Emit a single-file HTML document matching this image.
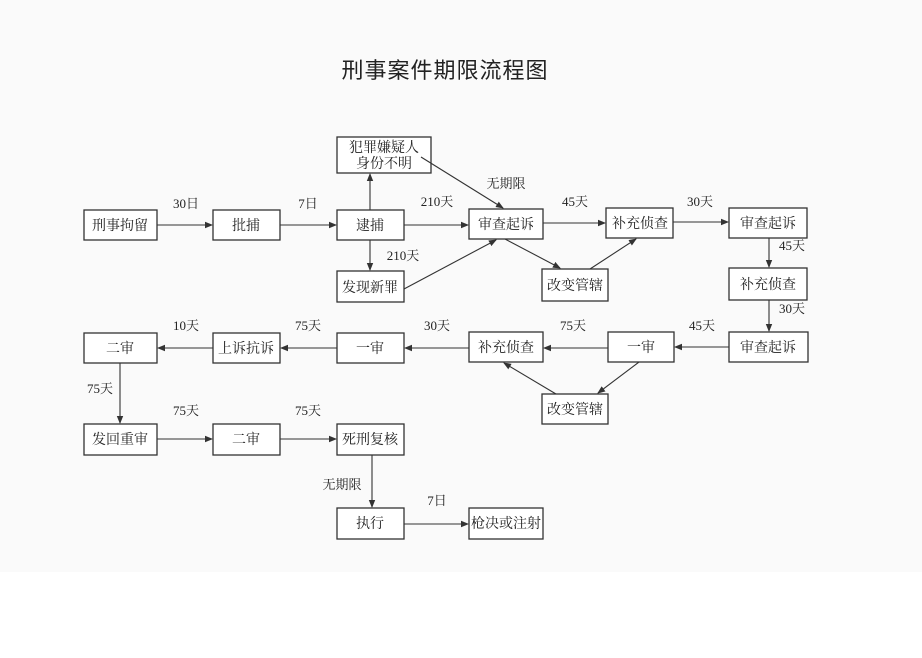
<!DOCTYPE html>
<html><head><meta charset="utf-8"><style>
html,body{margin:0;padding:0;background:#fff;}
svg{display:block;}
text{font-family:"Liberation Serif","Noto Serif CJK SC","Noto Sans CJK SC",serif;fill:#222;}
</style></head><body>
<svg width="922" height="658" viewBox="0 0 922 658" xmlns="http://www.w3.org/2000/svg">
<defs><marker id="a" markerWidth="8" markerHeight="8" refX="7" refY="4" orient="auto" markerUnits="userSpaceOnUse"><path d="M0,0.8 L8,4 L0,7.2 Z" fill="#333"/></marker></defs>
<rect x="0" y="0" width="922" height="572" fill="#fafafa"/>
<text x="445" y="78" font-size="22" text-anchor="middle" letter-spacing="1" style="font-family:'Noto Sans CJK SC',sans-serif">刑事案件期限流程图</text>
<g fill="#fff" stroke="#333" stroke-width="1.3">
<rect x="84" y="210" width="73" height="30"/>
<rect x="213" y="210" width="67" height="30"/>
<rect x="337" y="210" width="67" height="30"/>
<rect x="337" y="137" width="94" height="36"/>
<rect x="337" y="271" width="67" height="31"/>
<rect x="469" y="209" width="74" height="30"/>
<rect x="606" y="208" width="67" height="30"/>
<rect x="542" y="269" width="66" height="32"/>
<rect x="729" y="208" width="78" height="30"/>
<rect x="729" y="268" width="78" height="32"/>
<rect x="729" y="332" width="79" height="30"/>
<rect x="608" y="332" width="66" height="30"/>
<rect x="469" y="332" width="74" height="30"/>
<rect x="542" y="394" width="66" height="30"/>
<rect x="337" y="333" width="67" height="30"/>
<rect x="213" y="333" width="67" height="30"/>
<rect x="84" y="333" width="73" height="30"/>
<rect x="84" y="424" width="73" height="31"/>
<rect x="213" y="424" width="67" height="31"/>
<rect x="337" y="424" width="67" height="31"/>
<rect x="337" y="508" width="67" height="31"/>
<rect x="469" y="508" width="74" height="31"/>
</g>
<g stroke="#333" stroke-width="1.1" fill="none" marker-end="url(#a)">
<line x1="157" y1="225" x2="212" y2="225"/>
<line x1="280" y1="225" x2="336" y2="225"/>
<line x1="404" y1="225" x2="468" y2="225"/>
<line x1="370" y1="210" x2="370" y2="174"/>
<line x1="370" y1="240" x2="370" y2="270"/>
<line x1="421" y1="157" x2="503" y2="208"/>
<line x1="404" y1="289" x2="496" y2="240"/>
<line x1="543" y1="223" x2="605" y2="223"/>
<line x1="505" y1="239" x2="560" y2="268"/>
<line x1="590" y1="269" x2="636" y2="239"/>
<line x1="673" y1="222" x2="728" y2="222"/>
<line x1="769" y1="238" x2="769" y2="267"/>
<line x1="769" y1="300" x2="769" y2="331"/>
<line x1="729" y1="347" x2="675" y2="347"/>
<line x1="608" y1="348" x2="544" y2="348"/>
<line x1="639" y1="362" x2="598" y2="393"/>
<line x1="556" y1="394" x2="504" y2="363"/>
<line x1="469" y1="348" x2="405" y2="348"/>
<line x1="337" y1="348" x2="281" y2="348"/>
<line x1="213" y1="348" x2="158" y2="348"/>
<line x1="120" y1="363" x2="120" y2="423"/>
<line x1="157" y1="439" x2="212" y2="439"/>
<line x1="280" y1="439" x2="336" y2="439"/>
<line x1="372" y1="455" x2="372" y2="507"/>
<line x1="404" y1="524" x2="468" y2="524"/>
</g>
<g font-size="14" text-anchor="middle">
<text x="120" y="230">刑事拘留</text>
<text x="246" y="230">批捕</text>
<text x="370" y="230">逮捕</text>
<text x="384" y="152">犯罪嫌疑人</text>
<text x="384" y="168">身份不明</text>
<text x="370" y="292">发现新罪</text>
<text x="506" y="229">审查起诉</text>
<text x="640" y="228">补充侦查</text>
<text x="575" y="290">改变管辖</text>
<text x="768" y="228">审查起诉</text>
<text x="768" y="289">补充侦查</text>
<text x="768" y="352">审查起诉</text>
<text x="641" y="352">一审</text>
<text x="506" y="352">补充侦查</text>
<text x="575" y="414">改变管辖</text>
<text x="370" y="353">一审</text>
<text x="246" y="353">上诉抗诉</text>
<text x="120" y="353">二审</text>
<text x="120" y="444">发回重审</text>
<text x="246" y="444">二审</text>
<text x="370" y="444">死刑复核</text>
<text x="370" y="528">执行</text>
<text x="506" y="528">枪决或注射</text>
</g>
<g font-size="13" text-anchor="middle">
<text x="186" y="208">30日</text>
<text x="308" y="208">7日</text>
<text x="437" y="206">210天</text>
<text x="506" y="188">无期限</text>
<text x="403" y="260">210天</text>
<text x="575" y="206">45天</text>
<text x="700" y="206">30天</text>
<text x="792" y="250">45天</text>
<text x="792" y="313">30天</text>
<text x="702" y="330">45天</text>
<text x="573" y="330">75天</text>
<text x="437" y="330">30天</text>
<text x="308" y="330">75天</text>
<text x="186" y="330">10天</text>
<text x="100" y="393">75天</text>
<text x="186" y="415">75天</text>
<text x="308" y="415">75天</text>
<text x="342" y="489">无期限</text>
<text x="437" y="505">7日</text>
</g>
</svg>
</body></html>
